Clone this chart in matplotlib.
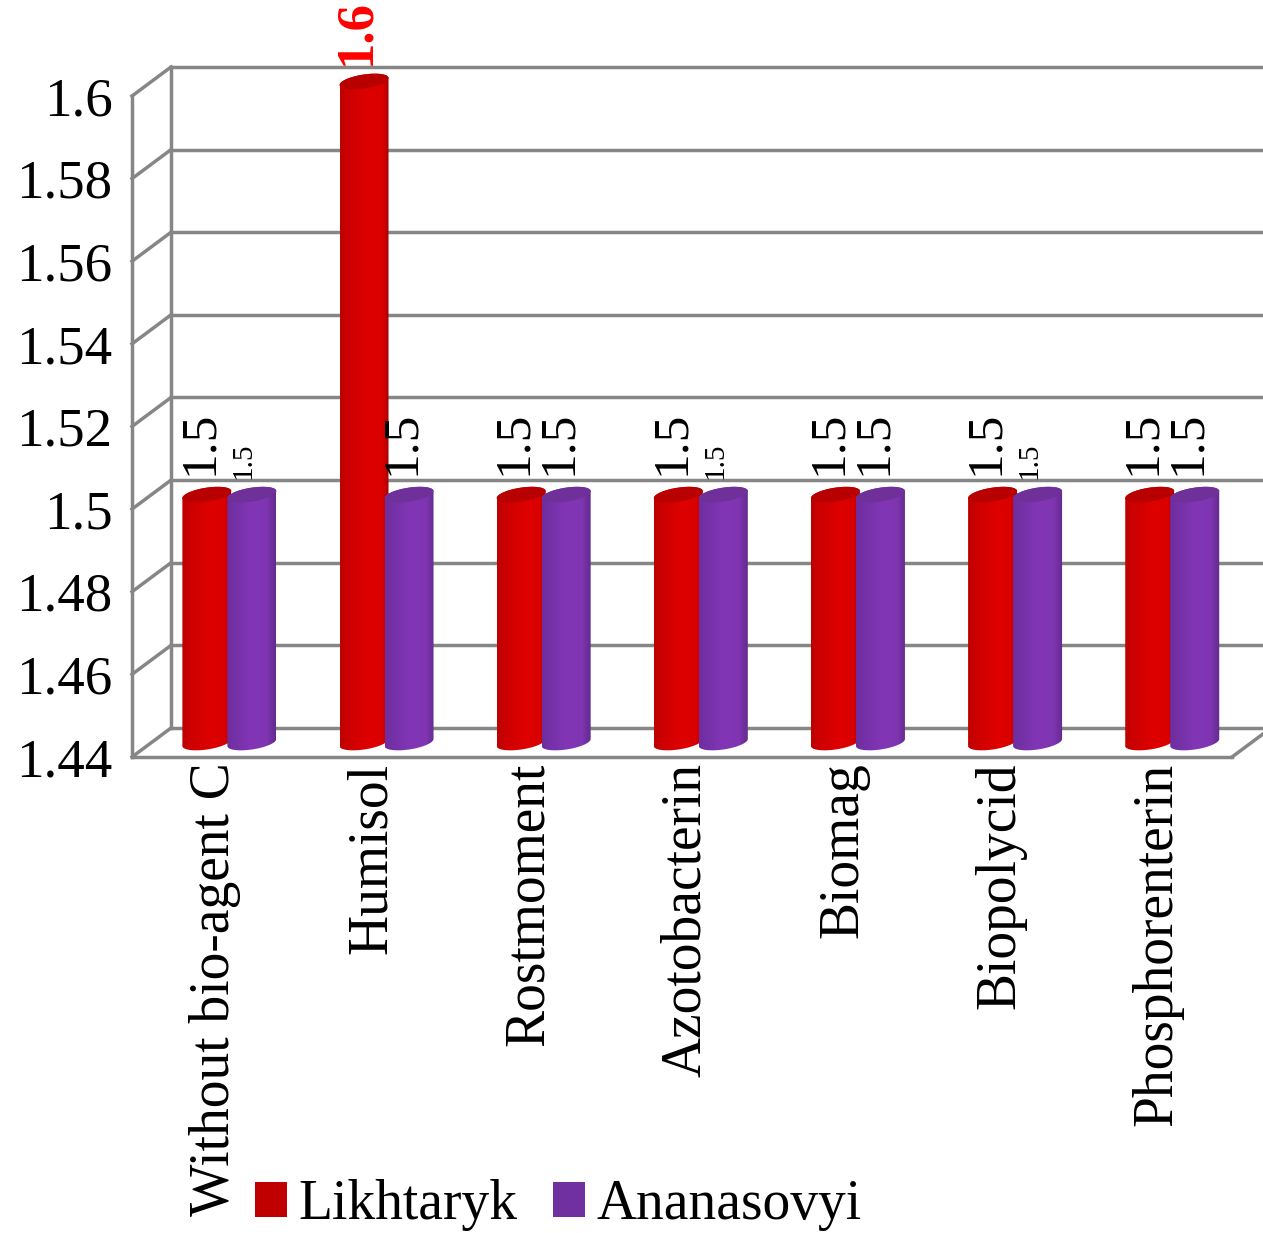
import numpy as np
import matplotlib
matplotlib.use("Agg")
import matplotlib.pyplot as plt
from matplotlib.patches import Polygon, Patch

plt.rcParams['font.family'] = ['Liberation Serif', 'DejaVu Serif']

# data
categories = ["Without bio-agent C", "Humisol", "Rostmoment", "Azotobacterin",
              "Biomag", "Biopolycid", "Phosphorenterin"]
likhtaryk = [1.5, 1.6, 1.5, 1.5, 1.5, 1.5, 1.5]
ananasovyi = [1.5, 1.5, 1.5, 1.5, 1.5, 1.5, 1.5]
y_ticks = [1.44, 1.46, 1.48, 1.5, 1.52, 1.54, 1.56, 1.58, 1.6]
y_labels = ["1.44", "1.46", "1.48", "1.5", "1.52", "1.54", "1.56", "1.58", "1.6"]
small_ananasovyi_labels = [0, 3, 5]

W, H = 1263, 1233
fig = plt.figure(figsize=(W / 100, H / 100), dpi=100)
ax = fig.add_axes([132 / W, 1 - 757 / H, 1100 / W, 661 / H])
ax.set_xlim(-0.5, 6.5)
ax.set_ylim(1.44, 1.6)

# pixel sizes expressed in data units
sx = 7 / 1100
sy = 0.16 / 661
depth_x, depth_y = 39 * sx, 29 * sy
wall = '#868686'
wall_lw = 2.5

# back wall and side wall
for v in y_ticks:
    ax.plot([-0.5 + depth_x, 6.5 + depth_x], [v + depth_y, v + depth_y], color=wall, lw=wall_lw, clip_on=False, zorder=1)
    ax.plot([-0.5, -0.5 + depth_x], [v, v + depth_y], color=wall, lw=wall_lw, clip_on=False, zorder=1)
ax.plot([-0.5 + depth_x] * 2, [1.44 + depth_y, 1.6 + depth_y], color=wall, lw=wall_lw, clip_on=False, zorder=1)
ax.plot([6.5, 6.5 + depth_x], [1.44, 1.44 + depth_y], color=wall, lw=wall_lw, clip_on=False, zorder=1)


def ellipse(cx, cy, t):
    x = cx + 24.5 * sx * np.cos(t)
    y = cy + (3.5 * np.cos(t) + 7 * np.sin(t)) * sy
    return np.column_stack([x, y])


def cylinder(cx, value, stops, colors, cap, z):
    base = 1.44 + 0.5 * depth_y
    lower = ellipse(cx, base, np.linspace(np.pi, 2 * np.pi, 60))
    upper = ellipse(cx, value + 0.5 * depth_y, np.linspace(0, np.pi, 60))
    body = Polygon(np.vstack([lower, upper]), closed=True, transform=ax.transData)
    pos = np.linspace(0, 1, 128)
    grad = np.stack([np.interp(pos, stops, [c[k] for c in colors]) for k in range(3)], axis=-1)[None, :, :]
    im = ax.imshow(grad, extent=[cx - 24.5 * sx, cx + 24.5 * sx, base - 12 * sy, value + 0.5 * depth_y + 12 * sy],
                   aspect='auto', interpolation='bilinear', zorder=z)
    im.set_clip_path(body)
    im.set_clip_box(fig.bbox)
    top = ellipse(cx, value + 0.5 * depth_y, np.linspace(0, 2 * np.pi, 120))
    ax.add_patch(Polygon(top, closed=True, facecolor=cap, edgecolor='none', clip_on=False, zorder=z + 0.1))


def rgb(h):
    return matplotlib.colors.to_rgb(h)


red_stops = [0, 0.15, 0.6, 0.88, 1]
red_cols = [rgb(c) for c in ['#bd0000', '#cc0000', '#df0000', '#d80000', '#a80000']]
pur_stops = [0, 0.5, 0.82, 1]
pur_cols = [rgb(c) for c in ['#6e2e9e', '#8236b6', '#7f35b2', '#632a8c']]

gap = 22.5 * sx
for i in range(len(categories)):
    cx = i + 0.5 * depth_x - 0.7 * sx
    cylinder(cx - gap, likhtaryk[i], red_stops, red_cols, '#b80000', 3 + i)
    cylinder(cx + gap, ananasovyi[i], pur_stops, pur_cols, '#70309a', 3.5 + i)

    # value labels
    is_max = likhtaryk[i] == max(likhtaryk)
    ax.annotate(f"{likhtaryk[i]:g}", (cx - gap, likhtaryk[i] + 0.5 * depth_y), xytext=(-7 if not is_max else -8, 20 if not is_max else 16),
                textcoords='offset pixels', rotation=90, ha='center', va='bottom',
                fontsize=38 if is_max else 37, fontweight='bold' if is_max else 'normal',
                color='#ff0000' if is_max else 'black', zorder=20, annotation_clip=False)
    small = i in small_ananasovyi_labels
    ax.annotate(f"{ananasovyi[i]:g}", (cx + gap, ananasovyi[i] + 0.5 * depth_y), xytext=(-8 if small else -7, 16 if small else 20),
                textcoords='offset pixels', rotation=90, ha='center', va='bottom',
                fontsize=21 if small else 37, color='black', zorder=20, annotation_clip=False)

ax.set_xlim(-0.5, 6.5)
ax.set_ylim(1.44, 1.6)

# axes
for s in ['top', 'right']:
    ax.spines[s].set_visible(False)
for s in ['left', 'bottom']:
    ax.spines[s].set_color(wall)
    ax.spines[s].set_linewidth(wall_lw)
ax.set_yticks(y_ticks)
ax.set_yticklabels(y_labels, fontsize=39.5)
ax.set_xticks(np.arange(len(categories)) + 4 * sx)
ax.set_xticklabels(categories, rotation=90, fontsize=40)
ax.tick_params(axis='y', length=0, pad=14)
ax.tick_params(axis='x', length=0, pad=4)
ax.patch.set_alpha(0)

handles = [Patch(facecolor='#c00000', label='Likhtaryk'), Patch(facecolor='#7030a0', label='Ananasovyi')]
fig.legend(handles=handles, loc='center', bbox_to_anchor=(558.5 / W, 1 - 1205 / H), ncol=2, frameon=False,
           fontsize=40, handlelength=0.576, handleheight=0.576, handletextpad=0.2, columnspacing=0.65,
           borderpad=0, borderaxespad=0)

fig.savefig('out.png', dpi=100)
